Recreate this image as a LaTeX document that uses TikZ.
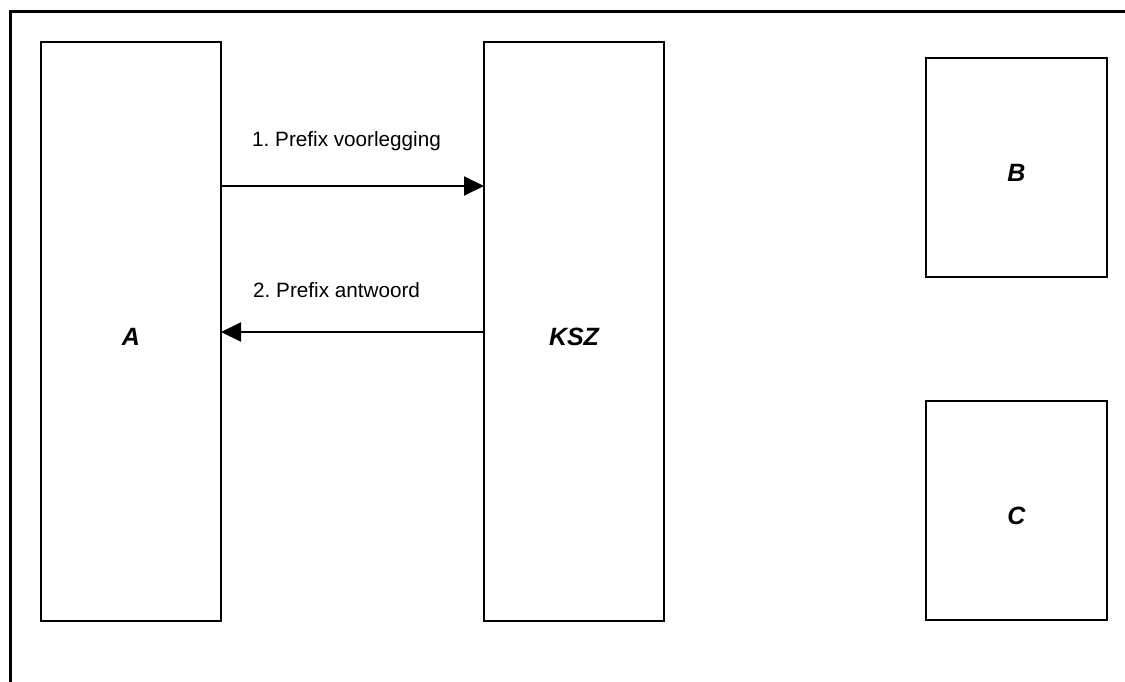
\documentclass[tikz,border=0pt]{standalone}
\usepackage{fontspec}
\setmainfont{Liberation Sans}
\usetikzlibrary{arrows.meta,positioning}
\frenchspacing

\begin{document}
\begin{tikzpicture}[
                    x=1pt,
                    y=-1pt,
                    party/.style={
                        rectangle,
                        draw=black,
                        line width=2pt,
                        anchor=north west,
                        outer sep=0pt,
                        inner sep=0pt,
                        minimum width=180pt,
                        font=\fontsize{25}{30}\selectfont\bfseries\itshape,
                        text height=28pt,
                        text depth=0pt
                    },
                    msg/.style={
                        line width=2pt,
                        -{Triangle[length=20pt,width=19pt]}
                    },
                    msglabel/.style={
                        anchor=base west,
                        inner sep=0pt,
                        font=\fontsize{20.7}{25}\selectfont
                    }
                ]
                \useasboundingbox (0,0) rectangle (1125,682);

                % frame
                \draw[line width=3pt] (10,682) -- (10,12) -- (1125,12);

                \node (A) [party, minimum height=579pt] at (41,42) {A};
                \node (KSZ) [party, minimum height=579pt] at (484,42) {KSZ};
                \node (B) [party, minimum width=181pt, minimum height=219pt] at (926,58) {B};
                \node (C) [party, minimum width=181pt, minimum height=219pt, below=124pt of B] {C};

                \node (voorlegging) [msglabel] at (252,147) {1. Prefix voorlegging};
                \node (antwoord) [msglabel] at (253,297) {2. Prefix antwoord};

                \draw[msg] (A.east |- 0,186) -- (KSZ.west |- 0,186);
                \draw[msg] (KSZ.west |- 0,332) -- (A.east |- 0,332);
            \end{tikzpicture}
\end{document}
